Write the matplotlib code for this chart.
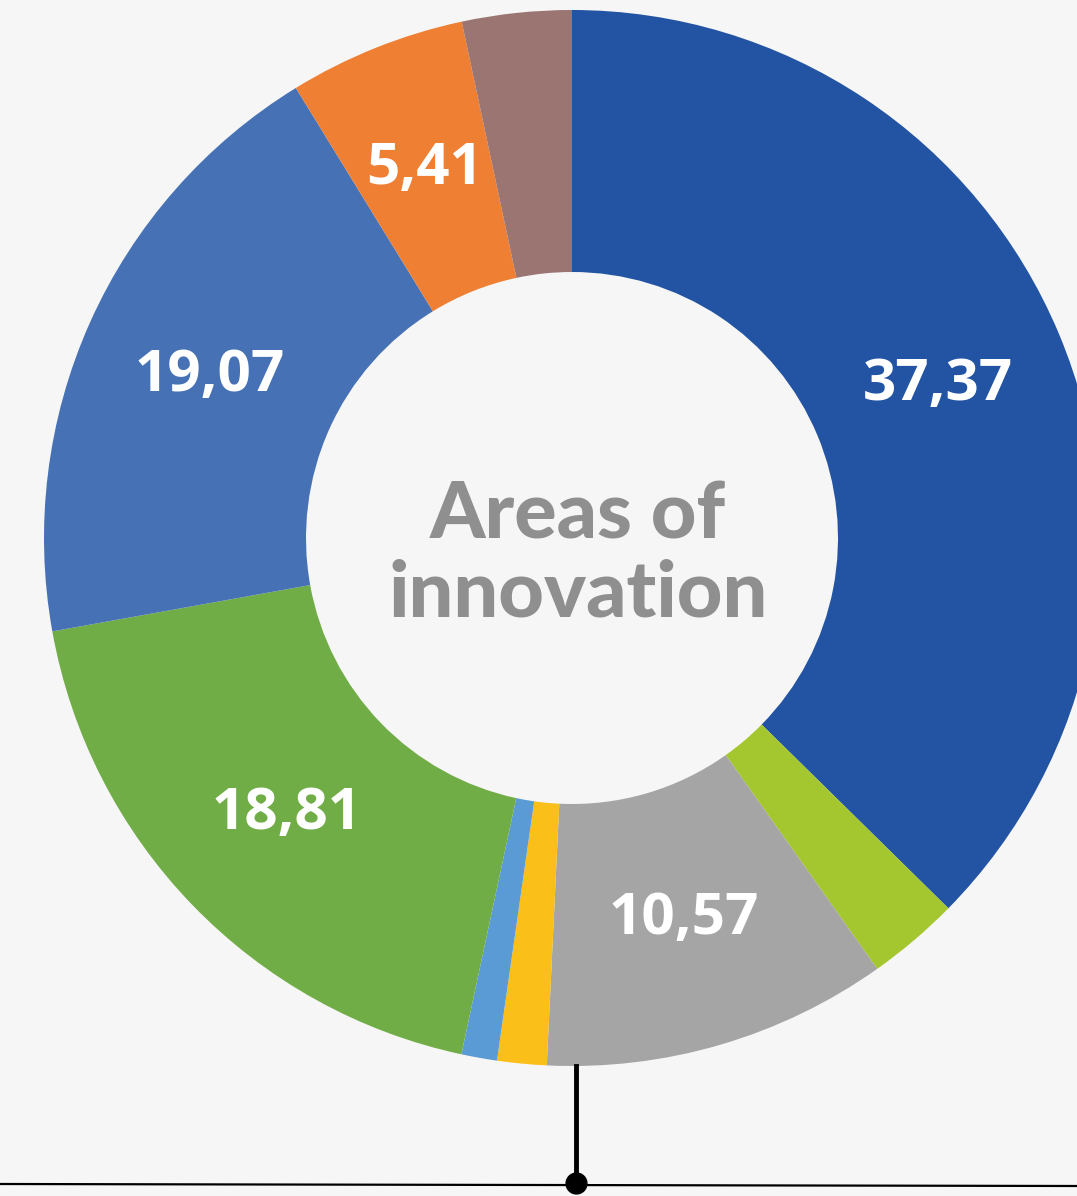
import numpy as np
import matplotlib.pyplot as plt

# donut values, clockwise from 12 o'clock
areas = ['A', 'B', 'C', 'D', 'E', 'F', 'G', 'H', 'I']
values = [37.37, 2.82, 10.57, 1.51, 1.09, 18.81, 19.07, 5.41, 3.35]
labels = ['37,37', '', '10,57', '', '', '18,81', '19,07', '5,41', '']
colors = ['#2254a3', '#a4c62e', '#a5a5a5', '#fbbf1a', '#5b9bd5',
          '#71ad47', '#4671b5', '#ee7f33', '#9a7572']

W, H = 1077, 1196
fig = plt.figure(figsize=(W / 100, H / 100), dpi=100)
fig.patch.set_facecolor('#f6f6f6')
ax = fig.add_axes([0, 0, 1, 1])
ax.set_facecolor('#f6f6f6')
ax.set_xlim(0, W)
ax.set_ylim(0, H)
ax.set_aspect('equal')
ax.axis('off')

cx, cy = 572, H - 538
R, r = 528, 266

wedges, texts = ax.pie(values, labels=labels, colors=colors, startangle=90,
                       counterclock=False, center=(cx, cy), radius=R,
                       labeldistance=(R + r) / 2 / R,
                       wedgeprops=dict(width=R - r, linewidth=0),
                       textprops=dict(color='white', fontsize=42,
                                      fontweight='bold', family='Open Sans',
                                      ha='center', va='center'))
ax.set_xlim(0, W)
ax.set_ylim(0, H)

# centre title
ax.text(cx + 6, cy + 22, 'Areas of', ha='center', va='center', fontsize=57,
        fontweight='black', family='Lato', color='#8f8f8f')
ax.text(cx + 6, cy - 56, 'innovation', ha='center', va='center', fontsize=57,
        fontweight='black', family='Lato', color='#8f8f8f')

# connector line and baseline
ax.plot([576, 576], [cy - R, H - 1182], color='black', lw=3.5, zorder=1)
ax.plot([0, W], [H - 1184, H - 1186], color='black', lw=1.6, zorder=1)
ax.plot(576, H - 1183, 'o', color='black', markersize=15, zorder=2)

fig.savefig('out.png', dpi=100, facecolor=fig.get_facecolor())
